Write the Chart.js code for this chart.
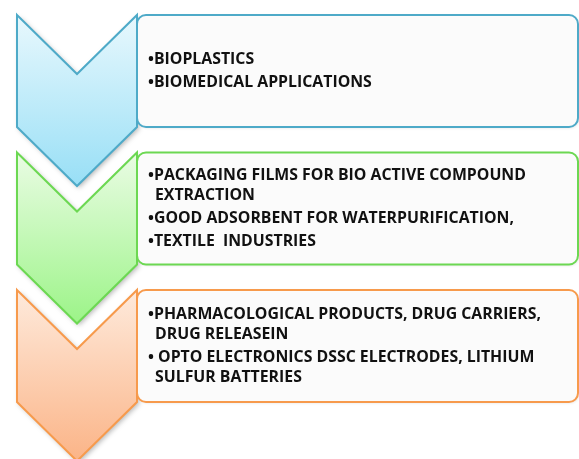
<!DOCTYPE html>
<html><head><meta charset="utf-8">
<script src="https://cdn.jsdelivr.net/npm/chart.js@4"></script>
<style>html,body{margin:0;padding:0;background:#fff}#wrap{width:579px;height:459px}</style>
</head><body><div id="wrap"><canvas id="c" width="579" height="459"></canvas></div>
<script>
// ---- data ----
const stages = ['Stage 1', 'Stage 2', 'Stage 3'];
const stageOrder = [0, 1, 2];
const stage1Items = [['BIOPLASTICS'], ['BIOMEDICAL APPLICATIONS']];
const stage2Items = [['PACKAGING FILMS FOR BIO ACTIVE COMPOUND', 'EXTRACTION'], ['GOOD ADSORBENT FOR WATERPURIFICATION,'], ['TEXTILE  INDUSTRIES']];
const stage3Items = [['PHARMACOLOGICAL PRODUCTS, DRUG CARRIERS,', 'DRUG RELEASEIN'], [' OPTO ELECTRONICS DSSC ELECTRODES, LITHIUM', 'SULFUR BATTERIES']];
const stageItems = [stage1Items, stage2Items, stage3Items];

// ---- styles / layout ----
const styles = [
  { top: '#e8f8fd', bottom: '#98dff6', stroke: '#4eaac8' },
  { top: '#eafce4', bottom: '#9cf488', stroke: '#6cd852' },
  { top: '#feeadc', bottom: '#fbb487', stroke: '#f79a4c' }
];
const L = { top0: 15, step: 137.5, chevL: 17, chevR: 137, side: 112, depth: 59, boxR: 578, radius: 9,
            bulletX: 148, textX: 156, paraGap: 23, wrapGap: 20, font: 'bold 16px "Open Sans"', fitWidth: 372 };

const diagramPlugin = {
  id: 'diagram',
  afterDatasetsDraw(chart) {
    const ctx = chart.ctx, xs = chart.scales.x, ys = chart.scales.y;
    const X = v => xs.getPixelForValue(v), Y = v => ys.getPixelForValue(v);
    ctx.save();
    ctx.font = L.font;
    const ref = ctx.measureText(stage2Items[0][0]).width;
    const sx = L.fitWidth / ref;
    stageOrder.forEach(i => {
      const st = styles[i];
      const t = L.top0 + L.step * i;
      const mid = (L.chevL + L.chevR) / 2;
      // chevron
      ctx.save();
      ctx.beginPath();
      ctx.moveTo(X(L.chevL), Y(t));
      ctx.lineTo(X(mid), Y(t + L.depth));
      ctx.lineTo(X(L.chevR), Y(t));
      ctx.lineTo(X(L.chevR), Y(t + L.side));
      ctx.lineTo(X(mid), Y(t + L.side + L.depth));
      ctx.lineTo(X(L.chevL), Y(t + L.side));
      ctx.closePath();
      const g = ctx.createLinearGradient(0, Y(t), 0, Y(t + L.side + L.depth));
      g.addColorStop(0, st.top); g.addColorStop(1, st.bottom);
      ctx.fillStyle = g;
      ctx.shadowColor = 'rgba(0,0,0,0.28)'; ctx.shadowBlur = 5; ctx.shadowOffsetX = 2; ctx.shadowOffsetY = 2;
      ctx.fill();
      ctx.shadowColor = 'transparent';
      ctx.strokeStyle = st.stroke; ctx.lineWidth = 2; ctx.lineJoin = 'miter';
      ctx.stroke();
      ctx.restore();
      // box
      ctx.save();
      ctx.beginPath();
      ctx.roundRect(X(L.chevR), Y(t), X(L.boxR) - X(L.chevR), Y(t + L.side) - Y(t), L.radius);
      ctx.fillStyle = 'rgba(252,252,252,0.96)';
      ctx.shadowColor = 'rgba(0,0,0,0.12)'; ctx.shadowBlur = 3; ctx.shadowOffsetX = 1; ctx.shadowOffsetY = 1;
      ctx.fill();
      ctx.shadowColor = 'transparent';
      ctx.strokeStyle = st.stroke; ctx.lineWidth = 2;
      ctx.stroke();
      ctx.restore();
      // text
      const items = stageItems[i];
      let total = 0, first = true;
      items.forEach(p => p.forEach((ln, k) => { if (!first) total += k === 0 ? L.paraGap : L.wrapGap; first = false; }));
      const center = t + L.side / 2;
      let y = center + 4 - total / 2;
      ctx.fillStyle = '#111';
      ctx.textBaseline = 'alphabetic';
      first = true;
      items.forEach(p => p.forEach((ln, k) => {
        if (!first) y += k === 0 ? L.paraGap : L.wrapGap;
        first = false;
        ctx.save();
        ctx.translate(X(k === 0 ? L.bulletX : L.textX - 1), Y(y));
        ctx.scale(sx, 1);
        ctx.fillText(k === 0 ? '\u2022' + ln : ln, 0, 0);
        ctx.restore();
      }));
    });
    ctx.restore();
  }
};

new Chart(document.getElementById('c'), {
  type: 'scatter',
  data: { labels: stages, datasets: [{ data: [], pointRadius: 0 }] },
  options: {
    responsive: false, animation: false, devicePixelRatio: 1,
    layout: { padding: 0 },
    plugins: { legend: { display: false }, tooltip: { enabled: false } },
    scales: {
      x: { type: 'linear', min: 0, max: 579, display: false },
      y: { type: 'linear', min: 0, max: 459, reverse: true, display: false }
    }
  },
  plugins: [diagramPlugin]
});
</script></body></html>
